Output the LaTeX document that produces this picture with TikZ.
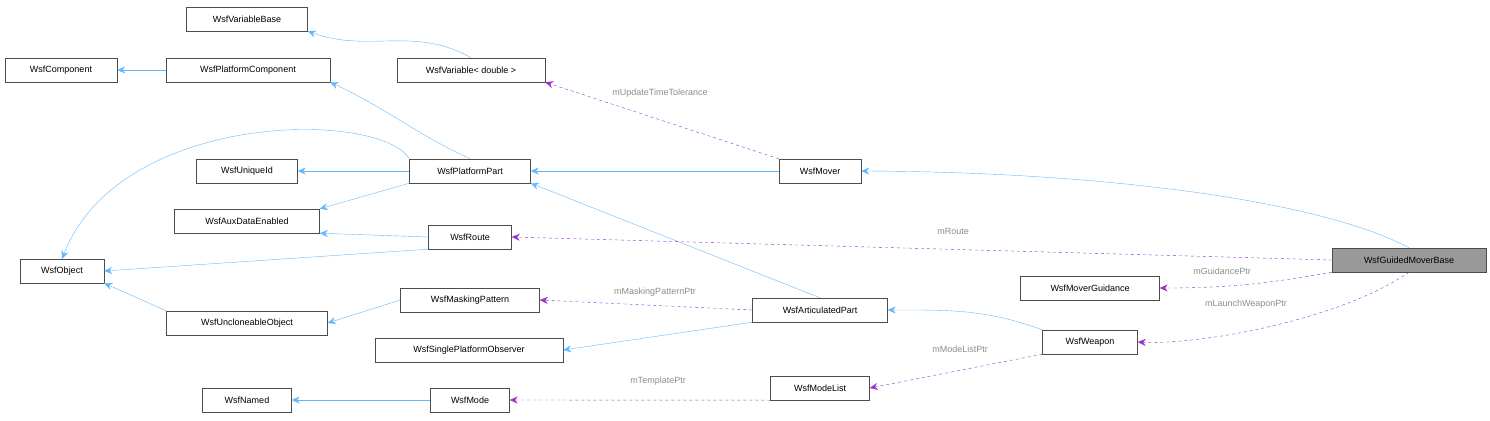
\documentclass[tikz,border=0pt]{standalone}
\usepackage{fontspec}
\setmainfont{Liberation Sans}
\usetikzlibrary{arrows.meta}
\definecolor{inh}{HTML}{63B8FF}
\definecolor{use}{HTML}{9A32CD}
\begin{document}
\begin{tikzpicture}[x=1pt,y=-1pt,
  box/.style={draw=black!70,fill=white,minimum height=24pt,inner sep=0pt,font=\fontsize{9}{10}\selectfont},
  inhe/.style={draw=inh,-{Stealth[length=8pt,width=7pt]}},
  usee/.style={draw=use,dashed,-{Stealth[length=8pt,width=7pt]}},
  lbl/.style={text=black!45,font=\fontsize{9}{10}\selectfont,inner sep=1pt}]
\useasboundingbox (0,0) rectangle (1490,420);
\node[box,minimum width=121] (vb) at (247,19) {WsfVariableBase};
\node[box,minimum width=112] (comp) at (61,70) {WsfComponent};
\node[box,minimum width=164] (pc) at (248,70) {WsfPlatformComponent};
\node[box,minimum width=148] (var) at (471,70) {WsfVariable< double >};
\node[box,minimum width=101] (uid) at (247,171) {WsfUniqueId};
\node[box,minimum width=121] (pp) at (470,171) {WsfPlatformPart};
\node[box,minimum width=82] (mov) at (820,171) {WsfMover};
\node[box,minimum width=145] (aux) at (247,221) {WsfAuxDataEnabled};
\node[box,minimum width=83] (route) at (470,237) {WsfRoute};
\node[box,minimum width=84] (obj) at (62,271) {WsfObject};
\node[box,minimum width=154,fill=black!40] (gmb) at (1409,260) {WsfGuidedMoverBase};
\node[box,minimum width=139] (mg) at (1090,288) {WsfMoverGuidance};
\node[box,minimum width=139] (mask) at (470,300) {WsfMaskingPattern};
\node[box,minimum width=161] (unc) at (247,323) {WsfUncloneableObject};
\node[box,minimum width=135] (art) at (820,310) {WsfArticulatedPart};
\node[box,minimum width=188] (spo) at (469,350) {WsfSinglePlatformObserver};
\node[box,minimum width=95] (wpn) at (1090,342) {WsfWeapon};
\node[box,minimum width=99] (ml) at (820,388) {WsfModeList};
\node[box,minimum width=89] (named) at (247,400) {WsfNamed};
\node[box,minimum width=79] (mode) at (470,400) {WsfMode};
% inheritance
\draw[inhe] (var.north) to[out=150,in=-20] (vb.south east);
\draw[inhe] (pc) -- (comp);
\draw[inhe] (pp.north) to[out=155,in=-25] (pc.south east);
\draw[inhe] (pp.north west) .. controls (380,110) and (120,110) .. (obj.north);
\draw[inhe] (pp) -- (uid);
\draw[inhe] (pp.south west) -- (aux.north east);
\draw[inhe] (mov) -- (pp);
\draw[inhe] (gmb.north) .. controls (1320,200) and (1100,172) .. (mov.east);
\draw[inhe] (route.west) -- (aux.south east);
\draw[inhe] (route.south west) -- (obj.east);
\draw[inhe] (unc.north west) -- (obj.south east);
\draw[inhe] (mask.west) -- (unc.east);
\draw[inhe] (art.north) -- (pp.south east);
\draw[inhe] (art.south west) -- (spo.east);
\draw[inhe] (wpn.north west) to[out=160,in=0] (art.east);
\draw[inhe] (mode) -- (named);
% usage
\draw[usee] (mov.north west) -- (var.south east);
\node[lbl] (l1) at (660,93) {mUpdateTimeTolerance};
\draw[usee] (gmb.west) -- (route.east);
\node[lbl] (l2) at (953,231) {mRoute};
\draw[usee] (gmb.south west) to[out=190,in=0] (mg.east);
\node[lbl] (l3) at (1222,271) {mGuidancePtr};
\draw[usee] (gmb.south) .. controls (1340,320) and (1200,345) .. (wpn.east);
\node[lbl] (l4) at (1246,304) {mLaunchWeaponPtr};
\draw[usee] (art.west) -- (mask.east);
\node[lbl] (l5) at (655,292) {mMaskingPatternPtr};
\draw[usee] (wpn.south west) -- (ml.east);
\node[lbl] (l6) at (960,349) {mModeListPtr};
\draw[usee] (ml.south west) -- (mode.east);
\node[lbl] (l7) at (658,381) {mTemplatePtr};
\end{tikzpicture}
\end{document}
